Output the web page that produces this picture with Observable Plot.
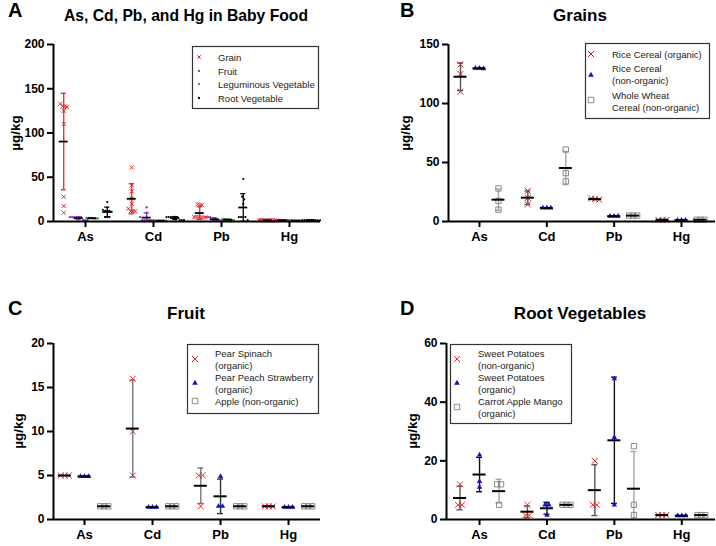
<!DOCTYPE html>
<html><head><meta charset="utf-8">
<script src="https://cdn.jsdelivr.net/npm/d3@7"></script>
<script src="https://cdn.jsdelivr.net/npm/@observablehq/plot@0.6"></script>
<style>
body{margin:0;background:#fff;}
#wrap{position:relative;width:716px;height:546px;overflow:hidden;font-family:"Liberation Sans",Arial,sans-serif;}
#wrap > svg{position:absolute;}
#wrap > svg.plotpanel text{font-weight:bold;}
</style></head><body><div id="wrap"></div>
<script>
const categories = ["As", "Cd", "Pb", "Hg"];

// Panel B – Grains (µg/kg); one inner array per element (As, Cd, Pb, Hg)
const riceOrganic      = [[133, 125, 110], [26, 20, 14.5], [19.5, 19, 18.5], [1.4, 1.4, 1.4]];
const riceNonOrganic   = [[130, 130, 129.5], [11.5, 11.5, 11.5], [4.5, 4.5, 4.5], [1.2, 1.2, 1.2]];
const wheatNonOrganic  = [[28, 17.5, 10], [61, 41, 34], [5, 5, 5], [1.5, 1.5, 1.5]];

// Panel C – Fruit
const pearSpinach          = [[5, 5, 5], [16, 10, 5], [5, 5, 1.5], [1.5, 1.5, 1.5]];
const pearPeachStrawberry  = [[4.9, 4.9, 4.9], [1.4, 1.4, 1.4], [4.9, 1.5, 1.5], [1.4, 1.4, 1.4]];
const appleNonOrganic      = [[1.5, 1.5, 1.5], [1.5, 1.5, 1.5], [1.5, 1.5, 1.5], [1.5, 1.5, 1.5]];

// Panel D – Root vegetables
const sweetPotatoNonOrganic = [[12, 5, 5], [5, 1.5, 1.5], [20, 5, 5], [1.5, 1.5, 1.5]];
const sweetPotatoOrganic    = [[22, 13, 11], [5, 5, 1.5], [48, 28, 5], [1.3, 1.3, 1.3]];
const carrotAppleMango      = [[12, 12, 5], [5, 5, 5], [25, 5, 1.5], [1.5, 1.5, 1.5]];

// Panel A – leguminous vegetable (only shown in the overview)
const leguminousVegetable = [[4, 4, 4, 3.5, 3.5, 3.5], [1, 1, 1, 0.8, 0.8, 0.8], [3, 2.5, 2, 2, 1.5, 1.5], [1, 1, 1, 1, 1, 1]];

// Panel A groups combine the products of panels B–D
const combine = (...arrs) => categories.map((_, i) => arrs.flatMap(a => a[i]));
const grainAll = combine(riceOrganic, riceNonOrganic, wheatNonOrganic);
const fruitAll = combine(pearSpinach, pearPeachStrawberry, appleNonOrganic);
const rootAll  = combine(sweetPotatoNonOrganic, sweetPotatoOrganic, carrotAppleMango);

const yTicksA = [0, 50, 100, 150, 200];
const yTicksB = [0, 50, 100, 150];
const yTicksC = [0, 5, 10, 15, 20];
const yTicksD = [0, 20, 40, 60];

const wrap = document.getElementById("wrap");
const FONT = "Liberation Sans, Arial, sans-serif";

function panel(cfg) {
  const {left, top, width, height, marginLeft, marginTop, marginBottom, marginRight,
         xDomain, yDomain, yTicks, series, offsets, spacing, threshold, meanHalf, capHalf,
         errWidth, meanWidth} = cfg;
  const pxX = (width - marginLeft - marginRight) / (xDomain[1] - xDomain[0]);
  const pxY = (height - marginTop - marginBottom) / (yDomain[1] - yDomain[0]);
  const stats = [];
  const dotMarks = [];
  series.forEach((s, j) => {
    const pts = [];
    s.values.forEach((vals, i) => {
      const cx = i + offsets[j];
      const mean = d3.mean(vals), sd = d3.deviation(vals) || 0;
      stats.push({x: cx, mean, lo: Math.max(0, mean - sd), hi: mean + sd, color: s.err});
      // horizontal spread of points that overlap vertically
      const sorted = vals.slice().sort((a, b) => b - a);
      const clusters = [];
      sorted.forEach(v => {
        const c = clusters[clusters.length - 1];
        if (c && (c[c.length - 1] - v) * pxY < threshold) c.push(v); else clusters.push([v]);
      });
      clusters.forEach(c => c.forEach((v, k) => {
        pts.push({x: cx + (k - (c.length - 1) / 2) * spacing / pxX, y: v});
      }));
    });
    dotMarks.push(Plot.dot(pts, {x: "x", y: "y", symbol: s.symbol, r: s.r,
      stroke: s.stroke || "none", fill: s.fill || "none", strokeWidth: s.sw || 1}));
  });
  const mh = meanHalf / pxX, ch = capHalf / pxX;
  const svg = Plot.plot({
    width, height, marginLeft, marginTop, marginBottom, marginRight,
    className: "plotpanel",
    style: {fontFamily: FONT, color: "black", background: "transparent", overflow: "visible"},
    x: {domain: xDomain},
    y: {domain: yDomain},
    marks: [
      Plot.ruleX(stats, {x: "x", y1: "lo", y2: "hi", stroke: "color", strokeWidth: errWidth}),
      Plot.ruleY(stats, {y: "hi", x1: d => d.x - ch, x2: d => d.x + ch, stroke: "color", strokeWidth: errWidth}),
      Plot.ruleY(stats, {y: "lo", x1: d => d.x - ch, x2: d => d.x + ch, stroke: "color", strokeWidth: errWidth}),
      ...dotMarks,
      Plot.ruleY(stats, {y: "mean", x1: d => d.x - mh, x2: d => d.x + mh, stroke: "black", strokeWidth: meanWidth}),
      Plot.ruleX([xDomain[0]], {y1: yDomain[0], y2: yDomain[1], stroke: "black", strokeWidth: 2}),
      Plot.ruleY([0], {x1: xDomain[0], x2: xDomain[1], stroke: "black", strokeWidth: 2}),
      Plot.axisY({ticks: yTicks, tickSize: 6, tickPadding: 3, fontSize: 12, fontWeight: "bold", label: null, strokeWidth: 2}),
      Plot.axisX({ticks: [0, 1, 2, 3], tickFormat: d => categories[d], tickSize: 6, tickPadding: 4,
                  fontSize: 13, fontWeight: "bold", label: null, strokeWidth: 2})
    ]
  });
  svg.classList.add("plotpanel");
  svg.style.left = left + "px";
  svg.style.top = top + "px";
  wrap.appendChild(svg);
}

const RED = "#e8262a", DRED = "#c42020", BLUE = "#1212d2", GRAY = "#8a8a8a";
const PURPLE = "#9a2fd0", GREEN = "#2aa52a";

panel({left: 0, top: 30, width: 340, height: 221, marginLeft: 53, marginTop: 14, marginBottom: 30, marginRight: 20,
  xDomain: [-0.4706, 3.456], yDomain: [0, 200], yTicks: yTicksA,
  offsets: [-0.32, -0.1, 0.1, 0.32], spacing: 2.2, threshold: 3.2, meanHalf: 4.5, capHalf: 2.5, errWidth: 1.3, meanWidth: 1.8,
  series: [
    {values: grainAll, symbol: "times", r: 2, stroke: RED, err: RED},
    {values: fruitAll, symbol: "circle", r: 1.2, fill: PURPLE, err: PURPLE},
    {values: leguminousVegetable, symbol: "circle", r: 1.2, fill: GREEN, err: GREEN},
    {values: rootAll, symbol: "circle", r: 1.1, fill: "black", err: "black"}
  ]});

panel({left: 358, top: 30, width: 358, height: 221, marginLeft: 90, marginTop: 14, marginBottom: 30, marginRight: 1,
  xDomain: [-0.46, 3.505], yDomain: [0, 150], yTicks: yTicksB,
  offsets: [-0.282, 0, 0.282], spacing: 4, threshold: 5, meanHalf: 6.5, capHalf: 3, errWidth: 1.4, meanWidth: 2,
  series: [
    {values: riceOrganic, symbol: "times", r: 2.8, stroke: DRED, err: "#555"},
    {values: riceNonOrganic, symbol: "triangle", r: 2, fill: BLUE, err: "#222"},
    {values: wheatNonOrganic, symbol: "square", r: 3, stroke: GRAY, err: "#a6a6a6"}
  ]});

panel({left: 0, top: 320, width: 340, height: 229, marginLeft: 53, marginTop: 23, marginBottom: 30, marginRight: 20,
  xDomain: [-0.456, 3.47], yDomain: [0, 20], yTicks: yTicksC,
  offsets: [-0.29, 0, 0.29], spacing: 4, threshold: 5, meanHalf: 6.5, capHalf: 3, errWidth: 1.4, meanWidth: 2,
  series: [
    {values: pearSpinach, symbol: "times", r: 2.8, stroke: RED, err: "#777"},
    {values: pearPeachStrawberry, symbol: "triangle", r: 2, fill: BLUE, err: "#333"},
    {values: appleNonOrganic, symbol: "square", r: 3, stroke: GRAY, err: "#a6a6a6"}
  ]});

panel({left: 358, top: 320, width: 358, height: 229, marginLeft: 88, marginTop: 23, marginBottom: 30, marginRight: 1,
  xDomain: [-0.49, 3.5], yDomain: [0, 60], yTicks: yTicksD,
  offsets: [-0.29, 0, 0.29], spacing: 4, threshold: 5, meanHalf: 6.5, capHalf: 3, errWidth: 1.4, meanWidth: 2,
  series: [
    {values: sweetPotatoNonOrganic, symbol: "times", r: 2.8, stroke: RED, err: "#555"},
    {values: sweetPotatoOrganic, symbol: "triangle", r: 2, fill: BLUE, err: "#111"},
    {values: carrotAppleMango, symbol: "square", r: 3, stroke: GRAY, err: "#a6a6a6"}
  ]});

// ---------- titles, panel letters, axis titles and legends ----------
const ov = d3.select(wrap).append("svg").attr("width", 716).attr("height", 546)
  .style("left", "0px").style("top", "0px").style("font-family", FONT);

const panelText = [
  {letter: "A", lx: 8, ly: 17, title: "As, Cd, Pb, and Hg in Baby Food", tfs: 15.7, tx: 186, ty: 21, yl: 15, yc: 133},
  {letter: "B", lx: 400, ly: 17, title: "Grains", tfs: 17, tx: 580, ty: 21, yl: 405, yc: 133},
  {letter: "C", lx: 8, ly: 315, title: "Fruit", tfs: 17, tx: 186, ty: 319, yl: 18, yc: 431},
  {letter: "D", lx: 400, ly: 315, title: "Root Vegetables", tfs: 17, tx: 580, ty: 319, yl: 412, yc: 431}
];
panelText.forEach(p => {
  ov.append("text").attr("x", p.lx).attr("y", p.ly).attr("font-size", 20).attr("font-weight", "bold").text(p.letter);
  ov.append("text").attr("x", p.tx).attr("y", p.ty).attr("font-size", p.tfs).attr("font-weight", "bold")
    .attr("text-anchor", "middle").text(p.title);
  ov.append("text").attr("transform", `translate(${p.yl + 4.5},${p.yc}) rotate(-90)`).attr("font-size", 13.5)
    .attr("font-weight", "bold").attr("text-anchor", "middle").text("µg/kg");
});

const legends = [
  {box: [192, 46, 126, 62], mx: 199, tx: 218, items: [
    {lines: ["Grain"], y: 57, sym: "times", size: 10, stroke: RED},
    {lines: ["Fruit"], y: 71, sym: "circle", size: 4, fill: PURPLE},
    {lines: ["Leguminous Vegetable"], y: 84, sym: "circle", size: 4, fill: GREEN},
    {lines: ["Root Vegetable"], y: 98, sym: "circle", size: 4, fill: "black"}]},
  {box: [585, 43, 124, 75], mx: 591, tx: 612, items: [
    {lines: ["Rice Cereal (organic)"], y: 54, my: 54, sym: "times", size: 25, stroke: DRED},
    {lines: ["Rice Cereal", "(non-organic)"], y: 68, my: 75, sym: "triangle", size: 14, fill: BLUE},
    {lines: ["Whole Wheat", "Cereal (non-organic)"], y: 95, my: 100, sym: "square", size: 30, stroke: GRAY}]},
  {box: [187, 344, 131, 69], mx: 195, tx: 215, items: [
    {lines: ["Pear Spinach", "(organic)"], y: 353, my: 359, sym: "times", size: 25, stroke: RED},
    {lines: ["Pear Peach Strawberry", "(organic)"], y: 377, my: 383, sym: "triangle", size: 14, fill: BLUE},
    {lines: ["Apple (non-organic)"], y: 401, my: 401, sym: "square", size: 30, stroke: GRAY}]},
  {box: [450, 344, 121, 79], mx: 457, tx: 478, items: [
    {lines: ["Sweet Potatoes", "(non-organic)"], y: 353, my: 359, sym: "times", size: 25, stroke: RED},
    {lines: ["Sweet Potatoes", "(organic)"], y: 377, my: 383, sym: "triangle", size: 14, fill: BLUE},
    {lines: ["Carrot Apple Mango", "(organic)"], y: 401, my: 407, sym: "square", size: 30, stroke: GRAY}]}
];
const symMap = {times: d3.symbolTimes, circle: d3.symbolCircle, triangle: d3.symbolTriangle, square: d3.symbolSquare};
legends.forEach(L => {
  ov.append("rect").attr("x", L.box[0] + 0.5).attr("y", L.box[1] + 0.5).attr("width", L.box[2]).attr("height", L.box[3])
    .attr("fill", "white").attr("stroke", "#333").attr("stroke-width", 1.2);
  L.items.forEach(it => {
    const my = it.my ?? it.y;
    ov.append("path").attr("d", d3.symbol(symMap[it.sym], it.size)()).attr("transform", `translate(${L.mx},${my})`)
      .attr("fill", it.fill || "none").attr("stroke", it.stroke || "none").attr("stroke-width", 1);
    it.lines.forEach((ln, k) => {
      ov.append("text").attr("x", L.tx).attr("y", it.y + 3.5 + k * 12.3).attr("font-size", 9.5).attr("fill", "#222").text(ln);
    });
  });
});
</script></body></html>
